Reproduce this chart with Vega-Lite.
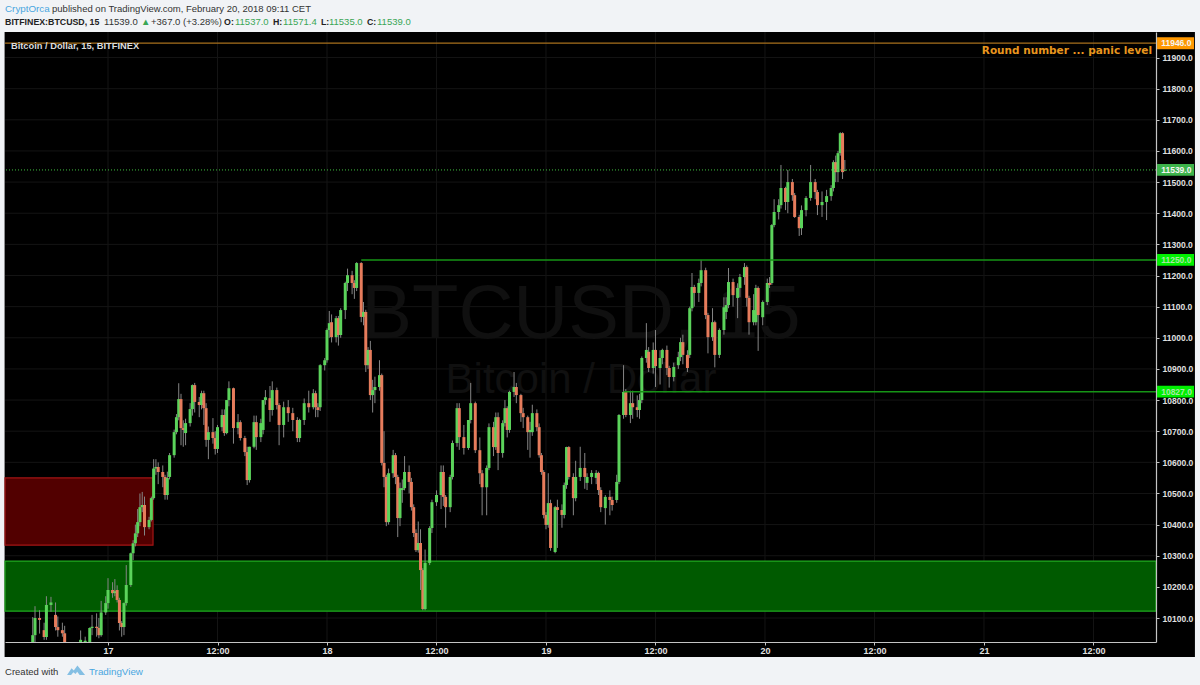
{"$schema":"https://vega.github.io/schema/vega-lite/v6.json","width":1151,"height":610,"autosize":{"type":"none"},"padding":{"left":5,"top":32,"right":44,"bottom":43},"background":"#f1f3f6","view":{"stroke":null},"config":{"view":{"stroke":null},"text":{"font":"Liberation Sans"}},
"datasets":{"candles":[
{"t":"2018-02-16T15:45Z","o":10023,"c":10045,"h":10103,"l":10023},
{"t":"2018-02-16T16:00Z","o":10045,"c":10100,"h":10138,"l":10023},
{"t":"2018-02-16T16:30Z","o":10100,"c":10094,"h":10125,"l":10050},
{"t":"2018-02-16T17:00Z","o":10061,"c":10039,"h":10085,"l":10030},
{"t":"2018-02-16T17:15Z","o":10039,"c":10142,"h":10170,"l":10030},
{"t":"2018-02-16T17:45Z","o":10142,"c":10150,"h":10168,"l":10120},
{"t":"2018-02-16T18:15Z","o":10110,"c":10071,"h":10150,"l":10060},
{"t":"2018-02-16T18:30Z","o":10071,"c":10061,"h":10105,"l":10040},
{"t":"2018-02-16T19:00Z","o":10061,"c":10051,"h":10085,"l":10040},
{"t":"2018-02-16T19:15Z","o":10051,"c":10023,"h":10075,"l":10023},
{"t":"2018-02-16T21:00Z","o":10023,"c":10030,"h":10060,"l":10023},
{"t":"2018-02-16T21:30Z","o":10023,"c":10027,"h":10040,"l":10023},
{"t":"2018-02-16T22:00Z","o":10023,"c":10068,"h":10070,"l":10023},
{"t":"2018-02-16T22:15Z","o":10068,"c":10072,"h":10110,"l":10045},
{"t":"2018-02-16T22:45Z","o":10072,"c":10068,"h":10115,"l":10040},
{"t":"2018-02-16T23:00Z","o":10068,"c":10045,"h":10100,"l":10035},
{"t":"2018-02-16T23:15Z","o":10045,"c":10118,"h":10155,"l":10040},
{"t":"2018-02-16T23:45Z","o":10118,"c":10148,"h":10170,"l":10110},
{"t":"2018-02-17T00:00Z","o":10148,"c":10190,"h":10228,"l":10130},
{"t":"2018-02-17T00:30Z","o":10190,"c":10180,"h":10215,"l":10165},
{"t":"2018-02-17T00:45Z","o":10180,"c":10186,"h":10225,"l":10170},
{"t":"2018-02-17T01:00Z","o":10190,"c":10158,"h":10205,"l":10150},
{"t":"2018-02-17T01:15Z","o":10158,"c":10084,"h":10165,"l":10060},
{"t":"2018-02-17T01:30Z","o":10084,"c":10071,"h":10090,"l":10040},
{"t":"2018-02-17T01:45Z","o":10071,"c":10148,"h":10150,"l":10045},
{"t":"2018-02-17T02:00Z","o":10148,"c":10206,"h":10270,"l":10140},
{"t":"2018-02-17T02:30Z","o":10206,"c":10308,"h":10310,"l":10200},
{"t":"2018-02-17T02:45Z","o":10308,"c":10340,"h":10350,"l":10286},
{"t":"2018-02-17T03:00Z","o":10340,"c":10372,"h":10400,"l":10330},
{"t":"2018-02-17T03:15Z","o":10372,"c":10408,"h":10450,"l":10360},
{"t":"2018-02-17T03:30Z","o":10408,"c":10456,"h":10500,"l":10395},
{"t":"2018-02-17T03:45Z","o":10456,"c":10463,"h":10505,"l":10440},
{"t":"2018-02-17T04:00Z","o":10463,"c":10392,"h":10490,"l":10365},
{"t":"2018-02-17T04:30Z","o":10392,"c":10415,"h":10425,"l":10385},
{"t":"2018-02-17T04:45Z","o":10415,"c":10485,"h":10490,"l":10410},
{"t":"2018-02-17T05:00Z","o":10485,"c":10580,"h":10610,"l":10480},
{"t":"2018-02-17T05:15Z","o":10580,"c":10585,"h":10610,"l":10560},
{"t":"2018-02-17T05:30Z","o":10585,"c":10569,"h":10600,"l":10530},
{"t":"2018-02-17T06:00Z","o":10569,"c":10553,"h":10590,"l":10520},
{"t":"2018-02-17T06:15Z","o":10553,"c":10495,"h":10560,"l":10480},
{"t":"2018-02-17T06:30Z","o":10495,"c":10550,"h":10570,"l":10480},
{"t":"2018-02-17T06:45Z","o":10553,"c":10623,"h":10630,"l":10545},
{"t":"2018-02-17T07:15Z","o":10623,"c":10697,"h":10705,"l":10615},
{"t":"2018-02-17T07:30Z","o":10697,"c":10745,"h":10755,"l":10690},
{"t":"2018-02-17T07:45Z","o":10745,"c":10803,"h":10854,"l":10735},
{"t":"2018-02-17T08:00Z","o":10803,"c":10710,"h":10820,"l":10655},
{"t":"2018-02-17T08:15Z","o":10710,"c":10704,"h":10735,"l":10650},
{"t":"2018-02-17T08:30Z","o":10694,"c":10726,"h":10740,"l":10655},
{"t":"2018-02-17T09:00Z","o":10726,"c":10771,"h":10790,"l":10715},
{"t":"2018-02-17T09:15Z","o":10771,"c":10848,"h":10850,"l":10750},
{"t":"2018-02-17T09:30Z","o":10848,"c":10794,"h":10855,"l":10760},
{"t":"2018-02-17T10:00Z","o":10794,"c":10784,"h":10810,"l":10745},
{"t":"2018-02-17T10:15Z","o":10784,"c":10822,"h":10830,"l":10770},
{"t":"2018-02-17T10:30Z","o":10822,"c":10774,"h":10830,"l":10720},
{"t":"2018-02-17T10:45Z","o":10774,"c":10672,"h":10790,"l":10650},
{"t":"2018-02-17T11:00Z","o":10672,"c":10697,"h":10715,"l":10610},
{"t":"2018-02-17T11:30Z","o":10697,"c":10678,"h":10742,"l":10660},
{"t":"2018-02-17T11:45Z","o":10678,"c":10643,"h":10700,"l":10625},
{"t":"2018-02-17T12:00Z","o":10643,"c":10713,"h":10720,"l":10630},
{"t":"2018-02-17T12:30Z","o":10713,"c":10752,"h":10770,"l":10700},
{"t":"2018-02-17T12:45Z","o":10752,"c":10694,"h":10770,"l":10685},
{"t":"2018-02-17T13:00Z","o":10694,"c":10800,"h":10800,"l":10690},
{"t":"2018-02-17T13:15Z","o":10800,"c":10838,"h":10860,"l":10780},
{"t":"2018-02-17T13:45Z","o":10838,"c":10710,"h":10840,"l":10660},
{"t":"2018-02-17T14:15Z","o":10710,"c":10729,"h":10755,"l":10690},
{"t":"2018-02-17T14:30Z","o":10729,"c":10678,"h":10735,"l":10670},
{"t":"2018-02-17T15:00Z","o":10678,"c":10633,"h":10685,"l":10620},
{"t":"2018-02-17T15:15Z","o":10633,"c":10543,"h":10650,"l":10527},
{"t":"2018-02-17T15:30Z","o":10543,"c":10650,"h":10650,"l":10535},
{"t":"2018-02-17T16:00Z","o":10650,"c":10729,"h":10750,"l":10645},
{"t":"2018-02-17T16:15Z","o":10729,"c":10681,"h":10750,"l":10640},
{"t":"2018-02-17T16:45Z","o":10681,"c":10726,"h":10740,"l":10665},
{"t":"2018-02-17T17:00Z","o":10704,"c":10800,"h":10800,"l":10690},
{"t":"2018-02-17T17:15Z","o":10800,"c":10809,"h":10832,"l":10785},
{"t":"2018-02-17T17:45Z","o":10806,"c":10768,"h":10845,"l":10730},
{"t":"2018-02-17T18:00Z","o":10768,"c":10832,"h":10860,"l":10750},
{"t":"2018-02-17T18:30Z","o":10832,"c":10784,"h":10840,"l":10770},
{"t":"2018-02-17T18:45Z","o":10784,"c":10720,"h":10790,"l":10655},
{"t":"2018-02-17T19:15Z","o":10720,"c":10777,"h":10795,"l":10680},
{"t":"2018-02-17T19:45Z","o":10777,"c":10758,"h":10800,"l":10730},
{"t":"2018-02-17T20:15Z","o":10758,"c":10736,"h":10775,"l":10700},
{"t":"2018-02-17T20:45Z","o":10736,"c":10678,"h":10745,"l":10665},
{"t":"2018-02-17T21:00Z","o":10678,"c":10736,"h":10740,"l":10665},
{"t":"2018-02-17T21:30Z","o":10736,"c":10790,"h":10805,"l":10720},
{"t":"2018-02-17T22:00Z","o":10790,"c":10777,"h":10830,"l":10760},
{"t":"2018-02-17T22:30Z","o":10777,"c":10822,"h":10835,"l":10770},
{"t":"2018-02-17T22:45Z","o":10822,"c":10777,"h":10830,"l":10745},
{"t":"2018-02-17T23:00Z","o":10777,"c":10768,"h":10790,"l":10745},
{"t":"2018-02-17T23:15Z","o":10777,"c":10912,"h":10915,"l":10765},
{"t":"2018-02-17T23:45Z","o":10912,"c":10928,"h":10935,"l":10895},
{"t":"2018-02-18T00:00Z","o":10928,"c":11025,"h":11030,"l":10920},
{"t":"2018-02-18T00:15Z","o":11025,"c":11047,"h":11086,"l":11000},
{"t":"2018-02-18T00:30Z","o":11050,"c":11002,"h":11075,"l":10985},
{"t":"2018-02-18T01:00Z","o":11002,"c":11063,"h":11070,"l":10985},
{"t":"2018-02-18T01:15Z","o":11063,"c":11009,"h":11070,"l":10975},
{"t":"2018-02-18T01:30Z","o":11009,"c":11089,"h":11095,"l":11000},
{"t":"2018-02-18T02:00Z","o":11089,"c":11176,"h":11180,"l":11060},
{"t":"2018-02-18T02:15Z","o":11176,"c":11201,"h":11222,"l":11150},
{"t":"2018-02-18T02:45Z","o":11201,"c":11176,"h":11215,"l":11140},
{"t":"2018-02-18T03:00Z","o":11176,"c":11160,"h":11185,"l":11125},
{"t":"2018-02-18T03:15Z","o":11160,"c":11240,"h":11243,"l":11150},
{"t":"2018-02-18T03:45Z","o":11240,"c":11067,"h":11243,"l":11050},
{"t":"2018-02-18T04:00Z","o":11067,"c":11083,"h":11115,"l":11040},
{"t":"2018-02-18T04:15Z","o":11083,"c":10912,"h":11090,"l":10890},
{"t":"2018-02-18T04:30Z","o":10912,"c":10961,"h":10970,"l":10900},
{"t":"2018-02-18T04:45Z","o":10961,"c":10816,"h":10990,"l":10800},
{"t":"2018-02-18T05:00Z","o":10816,"c":10832,"h":10865,"l":10760},
{"t":"2018-02-18T05:15Z","o":10832,"c":10842,"h":10875,"l":10790},
{"t":"2018-02-18T05:45Z","o":10842,"c":10880,"h":10928,"l":10830},
{"t":"2018-02-18T06:00Z","o":10880,"c":10598,"h":10885,"l":10590},
{"t":"2018-02-18T06:15Z","o":10598,"c":10553,"h":10700,"l":10520},
{"t":"2018-02-18T06:30Z","o":10553,"c":10408,"h":10560,"l":10395},
{"t":"2018-02-18T06:45Z","o":10408,"c":10565,"h":10580,"l":10400},
{"t":"2018-02-18T07:15Z","o":10565,"c":10623,"h":10640,"l":10550},
{"t":"2018-02-18T07:30Z","o":10623,"c":10553,"h":10630,"l":10530},
{"t":"2018-02-18T07:45Z","o":10553,"c":10421,"h":10560,"l":10360},
{"t":"2018-02-18T08:00Z","o":10421,"c":10517,"h":10535,"l":10395},
{"t":"2018-02-18T08:15Z","o":10511,"c":10517,"h":10545,"l":10470},
{"t":"2018-02-18T08:30Z","o":10517,"c":10569,"h":10620,"l":10510},
{"t":"2018-02-18T09:00Z","o":10569,"c":10537,"h":10590,"l":10500},
{"t":"2018-02-18T09:15Z","o":10537,"c":10456,"h":10550,"l":10445},
{"t":"2018-02-18T09:30Z","o":10456,"c":10373,"h":10465,"l":10360},
{"t":"2018-02-18T09:45Z","o":10373,"c":10318,"h":10385,"l":10312},
{"t":"2018-02-18T10:00Z","o":10318,"c":10341,"h":10410,"l":10310},
{"t":"2018-02-18T10:15Z","o":10341,"c":10254,"h":10385,"l":10190},
{"t":"2018-02-18T10:30Z","o":10254,"c":10129,"h":10260,"l":10125},
{"t":"2018-02-18T10:45Z","o":10129,"c":10277,"h":10320,"l":10125},
{"t":"2018-02-18T11:15Z","o":10277,"c":10389,"h":10395,"l":10270},
{"t":"2018-02-18T11:30Z","o":10389,"c":10472,"h":10480,"l":10373},
{"t":"2018-02-18T12:00Z","o":10472,"c":10495,"h":10510,"l":10460},
{"t":"2018-02-18T12:30Z","o":10495,"c":10569,"h":10590,"l":10450},
{"t":"2018-02-18T12:45Z","o":10569,"c":10489,"h":10590,"l":10460},
{"t":"2018-02-18T13:00Z","o":10489,"c":10456,"h":10495,"l":10390},
{"t":"2018-02-18T13:30Z","o":10456,"c":10553,"h":10560,"l":10440},
{"t":"2018-02-18T13:45Z","o":10553,"c":10662,"h":10670,"l":10545},
{"t":"2018-02-18T14:15Z","o":10662,"c":10774,"h":10790,"l":10650},
{"t":"2018-02-18T14:30Z","o":10774,"c":10681,"h":10790,"l":10640},
{"t":"2018-02-18T15:00Z","o":10681,"c":10646,"h":10720,"l":10625},
{"t":"2018-02-18T15:30Z","o":10646,"c":10736,"h":10735,"l":10640},
{"t":"2018-02-18T15:45Z","o":10736,"c":10790,"h":10855,"l":10725},
{"t":"2018-02-18T16:15Z","o":10790,"c":10639,"h":10795,"l":10630},
{"t":"2018-02-18T16:45Z","o":10639,"c":10565,"h":10680,"l":10530},
{"t":"2018-02-18T17:00Z","o":10565,"c":10520,"h":10575,"l":10430},
{"t":"2018-02-18T17:30Z","o":10520,"c":10582,"h":10590,"l":10430},
{"t":"2018-02-18T17:45Z","o":10582,"c":10713,"h":10725,"l":10575},
{"t":"2018-02-18T18:15Z","o":10713,"c":10649,"h":10730,"l":10620},
{"t":"2018-02-18T18:30Z","o":10649,"c":10745,"h":10760,"l":10640},
{"t":"2018-02-18T18:45Z","o":10745,"c":10630,"h":10760,"l":10575},
{"t":"2018-02-18T19:15Z","o":10630,"c":10726,"h":10735,"l":10615},
{"t":"2018-02-18T19:30Z","o":10726,"c":10774,"h":10800,"l":10715},
{"t":"2018-02-18T19:45Z","o":10774,"c":10704,"h":10780,"l":10680},
{"t":"2018-02-18T20:00Z","o":10704,"c":10826,"h":10830,"l":10695},
{"t":"2018-02-18T20:30Z","o":10826,"c":10842,"h":10890,"l":10810},
{"t":"2018-02-18T20:45Z","o":10842,"c":10816,"h":10855,"l":10790},
{"t":"2018-02-18T21:15Z","o":10816,"c":10758,"h":10820,"l":10730},
{"t":"2018-02-18T21:30Z","o":10758,"c":10745,"h":10775,"l":10710},
{"t":"2018-02-18T22:00Z","o":10745,"c":10697,"h":10750,"l":10640},
{"t":"2018-02-18T22:15Z","o":10697,"c":10704,"h":10730,"l":10615},
{"t":"2018-02-18T22:30Z","o":10697,"c":10758,"h":10785,"l":10685},
{"t":"2018-02-18T23:00Z","o":10758,"c":10713,"h":10770,"l":10700},
{"t":"2018-02-18T23:15Z","o":10713,"c":10623,"h":10725,"l":10615},
{"t":"2018-02-18T23:30Z","o":10623,"c":10569,"h":10630,"l":10560},
{"t":"2018-02-18T23:45Z","o":10569,"c":10431,"h":10575,"l":10420},
{"t":"2018-02-19T00:00Z","o":10431,"c":10399,"h":10440,"l":10385},
{"t":"2018-02-19T00:15Z","o":10399,"c":10469,"h":10565,"l":10390},
{"t":"2018-02-19T00:30Z","o":10469,"c":10325,"h":10480,"l":10316},
{"t":"2018-02-19T01:00Z","o":10312,"c":10456,"h":10460,"l":10308},
{"t":"2018-02-19T01:15Z","o":10456,"c":10447,"h":10480,"l":10325},
{"t":"2018-02-19T01:45Z","o":10447,"c":10431,"h":10465,"l":10390},
{"t":"2018-02-19T02:00Z","o":10431,"c":10527,"h":10535,"l":10420},
{"t":"2018-02-19T02:15Z","o":10527,"c":10649,"h":10650,"l":10515},
{"t":"2018-02-19T02:30Z","o":10649,"c":10553,"h":10652,"l":10545},
{"t":"2018-02-19T03:00Z","o":10553,"c":10485,"h":10565,"l":10430},
{"t":"2018-02-19T03:15Z","o":10485,"c":10553,"h":10605,"l":10475},
{"t":"2018-02-19T03:45Z","o":10553,"c":10582,"h":10650,"l":10540},
{"t":"2018-02-19T04:15Z","o":10582,"c":10553,"h":10630,"l":10515},
{"t":"2018-02-19T04:30Z","o":10534,"c":10553,"h":10565,"l":10511},
{"t":"2018-02-19T05:00Z","o":10553,"c":10566,"h":10575,"l":10530},
{"t":"2018-02-19T05:30Z","o":10550,"c":10566,"h":10575,"l":10530},
{"t":"2018-02-19T05:45Z","o":10566,"c":10511,"h":10570,"l":10495},
{"t":"2018-02-19T06:00Z","o":10511,"c":10456,"h":10520,"l":10440},
{"t":"2018-02-19T06:30Z","o":10453,"c":10489,"h":10495,"l":10400},
{"t":"2018-02-19T07:00Z","o":10489,"c":10479,"h":10510,"l":10430},
{"t":"2018-02-19T07:15Z","o":10479,"c":10463,"h":10490,"l":10445},
{"t":"2018-02-19T07:45Z","o":10479,"c":10537,"h":10560,"l":10470},
{"t":"2018-02-19T08:00Z","o":10537,"c":10752,"h":10755,"l":10530},
{"t":"2018-02-19T08:30Z","o":10752,"c":10826,"h":10912,"l":10740},
{"t":"2018-02-19T08:45Z","o":10826,"c":10752,"h":10835,"l":10745},
{"t":"2018-02-19T09:15Z","o":10752,"c":10790,"h":10830,"l":10726},
{"t":"2018-02-19T09:30Z","o":10790,"c":10777,"h":10830,"l":10740},
{"t":"2018-02-19T10:00Z","o":10777,"c":10768,"h":10815,"l":10745},
{"t":"2018-02-19T10:15Z","o":10768,"c":10800,"h":10820,"l":10740},
{"t":"2018-02-19T10:30Z","o":10800,"c":10935,"h":10940,"l":10790},
{"t":"2018-02-19T11:00Z","o":10935,"c":10961,"h":11047,"l":10920},
{"t":"2018-02-19T11:15Z","o":10955,"c":10903,"h":10970,"l":10890},
{"t":"2018-02-19T11:45Z","o":10903,"c":10961,"h":10985,"l":10885},
{"t":"2018-02-19T12:00Z","o":10961,"c":10909,"h":11025,"l":10842},
{"t":"2018-02-19T12:30Z","o":10903,"c":10935,"h":10960,"l":10850},
{"t":"2018-02-19T12:45Z","o":10935,"c":10961,"h":10965,"l":10915},
{"t":"2018-02-19T13:15Z","o":10961,"c":10903,"h":10975,"l":10880},
{"t":"2018-02-19T13:30Z","o":10903,"c":10874,"h":10910,"l":10840},
{"t":"2018-02-19T14:00Z","o":10874,"c":10906,"h":10920,"l":10860},
{"t":"2018-02-19T14:30Z","o":10912,"c":10938,"h":10955,"l":10900},
{"t":"2018-02-19T14:45Z","o":10938,"c":10986,"h":11000,"l":10925},
{"t":"2018-02-19T15:00Z","o":10986,"c":10945,"h":11010,"l":10915},
{"t":"2018-02-19T15:30Z","o":10945,"c":10903,"h":10960,"l":10890},
{"t":"2018-02-19T15:45Z","o":10945,"c":11095,"h":11100,"l":10935},
{"t":"2018-02-19T16:00Z","o":11095,"c":11163,"h":11208,"l":11085},
{"t":"2018-02-19T16:15Z","o":11163,"c":11144,"h":11170,"l":11100},
{"t":"2018-02-19T16:45Z","o":11144,"c":11176,"h":11190,"l":11115},
{"t":"2018-02-19T17:00Z","o":11176,"c":11217,"h":11250,"l":11165},
{"t":"2018-02-19T17:30Z","o":11217,"c":11073,"h":11225,"l":11060},
{"t":"2018-02-19T17:45Z","o":11073,"c":11002,"h":11080,"l":10950},
{"t":"2018-02-19T18:15Z","o":11002,"c":11050,"h":11095,"l":10990},
{"t":"2018-02-19T18:30Z","o":11050,"c":10945,"h":11055,"l":10905},
{"t":"2018-02-19T19:00Z","o":10945,"c":11025,"h":11030,"l":10935},
{"t":"2018-02-19T19:30Z","o":11025,"c":11098,"h":11130,"l":11010},
{"t":"2018-02-19T19:45Z","o":11083,"c":11105,"h":11130,"l":11060},
{"t":"2018-02-19T20:00Z","o":11105,"c":11179,"h":11224,"l":11095},
{"t":"2018-02-19T20:30Z","o":11179,"c":11137,"h":11190,"l":11100},
{"t":"2018-02-19T21:00Z","o":11128,"c":11160,"h":11175,"l":11063},
{"t":"2018-02-19T21:15Z","o":11160,"c":11195,"h":11205,"l":11130},
{"t":"2018-02-19T21:45Z","o":11195,"c":11227,"h":11240,"l":11170},
{"t":"2018-02-19T22:00Z","o":11227,"c":11128,"h":11232,"l":11100},
{"t":"2018-02-19T22:15Z","o":11128,"c":11050,"h":11135,"l":11010},
{"t":"2018-02-19T22:45Z","o":11050,"c":11089,"h":11140,"l":11040},
{"t":"2018-02-19T23:00Z","o":11050,"c":11160,"h":11170,"l":11040},
{"t":"2018-02-19T23:15Z","o":11160,"c":11073,"h":11165,"l":10958},
{"t":"2018-02-19T23:45Z","o":11066,"c":11115,"h":11120,"l":11040},
{"t":"2018-02-20T00:15Z","o":11115,"c":11176,"h":11190,"l":11105},
{"t":"2018-02-20T00:30Z","o":11176,"c":11170,"h":11195,"l":11160},
{"t":"2018-02-20T00:45Z","o":11176,"c":11362,"h":11365,"l":11170},
{"t":"2018-02-20T01:00Z","o":11362,"c":11404,"h":11445,"l":11355},
{"t":"2018-02-20T01:30Z","o":11404,"c":11426,"h":11445,"l":11380},
{"t":"2018-02-20T01:45Z","o":11426,"c":11481,"h":11555,"l":11415},
{"t":"2018-02-20T02:15Z","o":11481,"c":11436,"h":11485,"l":11410},
{"t":"2018-02-20T02:30Z","o":11436,"c":11500,"h":11539,"l":11400},
{"t":"2018-02-20T03:00Z","o":11500,"c":11458,"h":11510,"l":11440},
{"t":"2018-02-20T03:15Z","o":11458,"c":11388,"h":11465,"l":11385},
{"t":"2018-02-20T03:45Z","o":11388,"c":11352,"h":11395,"l":11327},
{"t":"2018-02-20T04:00Z","o":11352,"c":11410,"h":11425,"l":11330},
{"t":"2018-02-20T04:30Z","o":11410,"c":11449,"h":11455,"l":11390},
{"t":"2018-02-20T05:00Z","o":11449,"c":11500,"h":11555,"l":11440},
{"t":"2018-02-20T05:30Z","o":11500,"c":11468,"h":11510,"l":11445},
{"t":"2018-02-20T05:45Z","o":11468,"c":11426,"h":11475,"l":11394},
{"t":"2018-02-20T06:15Z","o":11426,"c":11436,"h":11470,"l":11388},
{"t":"2018-02-20T06:45Z","o":11436,"c":11455,"h":11475,"l":11378},
{"t":"2018-02-20T07:15Z","o":11455,"c":11481,"h":11490,"l":11440},
{"t":"2018-02-20T07:30Z","o":11481,"c":11564,"h":11570,"l":11470},
{"t":"2018-02-20T07:45Z","o":11564,"c":11532,"h":11585,"l":11500},
{"t":"2018-02-20T08:00Z","o":11532,"c":11593,"h":11600,"l":11500},
{"t":"2018-02-20T08:15Z","o":11593,"c":11657,"h":11660,"l":11585},
{"t":"2018-02-20T08:30Z","o":11657,"c":11532,"h":11660,"l":11510},
{"t":"2018-02-20T08:45Z","o":11537,"c":11539,"h":11571,"l":11535}
],
"zones":[{"name":"demand","t0":"2018-02-16T12:43Z","t1":"2018-02-21T18:51Z","p0":10122,"p1":10283},{"name":"supply","t0":"2018-02-16T12:43Z","t1":"2018-02-17T04:56Z","p0":10334,"p1":10550}],
"levels":[{"name":"round","t0":"2018-02-16T12:43Z","p":11946},{"name":"high","t0":"2018-02-18T03:45Z","p":11250},{"name":"breakout","t0":"2018-02-19T08:30Z","p":10827}],
"tags":[{"name":"round","label":"11946.0","p":11946,"p0":11927,"p1":11965,"t0":"2018-02-21T18:58Z","t1":"2018-02-21T23:01Z","t":"2018-02-21T19:25Z"},{"name":"last","label":"11539.0","p":11539,"p0":11520,"p1":11558,"t0":"2018-02-21T18:58Z","t1":"2018-02-21T23:01Z","t":"2018-02-21T19:25Z"},{"name":"high","label":"11250.0","p":11250,"p0":11231,"p1":11269,"t0":"2018-02-21T18:58Z","t1":"2018-02-21T23:01Z","t":"2018-02-21T19:25Z"},{"name":"breakout","label":"10827.0","p":10827,"p0":10808,"p1":10846,"t0":"2018-02-21T18:58Z","t1":"2018-02-21T23:01Z","t":"2018-02-21T19:25Z"}]
},
"layer":[
{"data":{"values":[{"t0":"2018-02-16T12:40Z","t1":"2018-02-21T23:07Z","p0":9975,"p1":11982}]},"mark":{"type":"rect","color":"#000000","clip":false},
"encoding":{"x":{"field":"t0","type":"temporal","scale":{"type":"utc","domain":[1518784963000,1519239060000]},"axis":{"title":null,"grid":false,"zindex":1,"labelOverlap":false,"tickCount":40,"values":[1518825600000,1518868800000,1518912000000,1518955200000,1518998400000,1519041600000,1519084800000,1519128000000,1519171200000,1519214400000],"labelExpr":"utchours(datum.value)==0 ? utcdate(datum.value) : '12:00'","labelColor":"#e0e0e0","labelFont":"Liberation Sans","labelFontSize":9,"labelFontWeight":"bold","domainColor":"#c4c4c4","tickColor":"#c4c4c4","tickSize":3,"labelPadding":1,"domainWidth":1.2}},"x2":{"field":"t1"},"y":{"field":"p0","type":"quantitative","scale":{"domain":[10023,11982],"nice":false,"zero":false},"axis":{"title":null,"grid":false,"zindex":1,"orient":"right","labelOverlap":false,"tickCount":40,"values":[10100,10200,10300,10400,10500,10600,10700,10800,10900,11000,11100,11200,11300,11400,11500,11600,11700,11800,11900],"format":".1f","labelColor":"#e0e0e0","labelFont":"Liberation Sans","labelFontSize":8.5,"labelFontWeight":"bold","domainColor":"#c4c4c4","tickColor":"#c4c4c4","tickSize":3,"labelPadding":3,"domainWidth":1.2}},"y2":{"field":"p1"}}},
{"data":{"values":[{"p":10100},{"p":10200},{"p":10300},{"p":10400},{"p":10500},{"p":10600},{"p":10700},{"p":10800},{"p":10900},{"p":11000},{"p":11100},{"p":11200},{"p":11300},{"p":11400},{"p":11500},{"p":11600},{"p":11700},{"p":11800},{"p":11900}]},"mark":{"type":"rule","color":"#141414","strokeWidth":1},"encoding":{"y":{"field":"p","type":"quantitative"}}},
{"data":{"values":[{"t":"2018-02-17T00:00Z"},{"t":"2018-02-17T12:00Z"},{"t":"2018-02-18T00:00Z"},{"t":"2018-02-18T12:00Z"},{"t":"2018-02-19T00:00Z"},{"t":"2018-02-19T12:00Z"},{"t":"2018-02-20T00:00Z"},{"t":"2018-02-20T12:00Z"},{"t":"2018-02-21T00:00Z"},{"t":"2018-02-21T12:00Z"}]},"mark":{"type":"rule","color":"#141414","strokeWidth":1},"encoding":{"x":{"field":"t","type":"temporal"}}},
{"data":{"values":[{"w":"BTCUSD, 15","t":"2018-02-19T03:50Z","p":11073}]},"mark":{"type":"text","fontSize":76,"color":"#101010","align":"center","baseline":"middle","clip":true},"encoding":{"x":{"field":"t","type":"temporal"},"y":{"field":"p","type":"quantitative"},"text":{"field":"w"}}},
{"data":{"values":[{"w":"Bitcoin / Dollar","t":"2018-02-19T03:50Z","p":10864}]},"mark":{"type":"text","fontSize":42,"color":"#101010","align":"center","baseline":"middle","clip":true},"encoding":{"x":{"field":"t","type":"temporal"},"y":{"field":"p","type":"quantitative"},"text":{"field":"w"}}},
{"data":{"name":"zones"},"mark":{"type":"rect","strokeWidth":1.2},"encoding":{"x":{"field":"t0","type":"temporal"},"x2":{"field":"t1"},"y":{"field":"p0","type":"quantitative"},"y2":{"field":"p1"},"fill":{"field":"name","type":"nominal","legend":null,"scale":{"domain":["demand","supply","round","last","high","breakout"],"range":["#005a00","#520000","#ff9800","#3cb34a","#00f000","#00f000"]}},"stroke":{"field":"name","type":"nominal","legend":null,"scale":{"domain":["demand","supply"],"range":["#1fa81f","#a31515"]}}}},
{"data":{"name":"candles"},"mark":{"type":"rule","color":"#858585","strokeWidth":1,"clip":true},"encoding":{"x":{"field":"t","type":"temporal"},"y":{"field":"l","type":"quantitative"},"y2":{"field":"h"}}},
{"data":{"name":"candles"},"mark":{"type":"rule","strokeWidth":3,"clip":true},"encoding":{"x":{"field":"t","type":"temporal"},"y":{"field":"o","type":"quantitative"},"y2":{"field":"c"},"color":{"condition":{"test":"datum.c>=datum.o","value":"#5bd35b"},"value":"#e67c5c"}}},
{"data":{"name":"levels"},"transform":[{"filter":"datum.name!='round'"}],"mark":{"type":"rule","color":"#169416","strokeWidth":1.5,"clip":false},"encoding":{"x":{"field":"t0","type":"temporal"},"x2":{"datum":1519239060000},"y":{"field":"p","type":"quantitative"}}},
{"data":{"name":"levels"},"transform":[{"filter":"datum.name=='round'"}],"mark":{"type":"rule","color":"#a8701c","strokeWidth":1.3,"clip":false},"encoding":{"x":{"field":"t0","type":"temporal"},"x2":{"datum":1519239060000},"y":{"field":"p","type":"quantitative"}}},
{"data":{"values":[{"p":11539}]},"mark":{"type":"rule","color":"#3fbf3f","strokeWidth":1,"strokeDash":[1,2]},"encoding":{"y":{"field":"p","type":"quantitative"}}},
{"data":{"values":[{"w":"Round number ... panic level","t":"2018-02-21T18:25Z","p":11921}]},"mark":{"type":"text","font":"DejaVu Sans","fontWeight":"bold","fontSize":10.5,"color":"#e8961e","align":"right","baseline":"middle","clip":false},"encoding":{"x":{"field":"t","type":"temporal"},"y":{"field":"p","type":"quantitative"},"text":{"field":"w"}}},
{"data":{"name":"tags"},"mark":{"type":"rect","clip":false},"encoding":{"x":{"field":"t0","type":"temporal"},"x2":{"field":"t1"},"y":{"field":"p0","type":"quantitative"},"y2":{"field":"p1"},"fill":{"field":"name","type":"nominal","legend":null}}},
{"data":{"name":"tags"},"transform":[{"filter":"datum.name=='round'||datum.name=='last'"}],"mark":{"type":"text","fontSize":8.5,"fontWeight":"bold","color":"#f4f4f4","align":"left","baseline":"middle","clip":false},"encoding":{"x":{"field":"t","type":"temporal"},"y":{"field":"p","type":"quantitative"},"text":{"field":"label"}}},
{"data":{"name":"tags"},"transform":[{"filter":"datum.name=='high'||datum.name=='breakout'"}],"mark":{"type":"text","fontSize":8.5,"fontWeight":"bold","color":"#a8e8a8","align":"left","baseline":"middle","clip":false},"encoding":{"x":{"field":"t","type":"temporal"},"y":{"field":"p","type":"quantitative"},"text":{"field":"label"}}},
{"data":{"values":[{"w":"Bitcoin / Dollar, 15, BITFINEX","t":"2018-02-16T13:22Z","p":11937}]},"mark":{"type":"text","fontSize":9.3,"fontWeight":"bold","color":"#dddddd","align":"left","baseline":"middle","clip":false},"encoding":{"x":{"field":"t","type":"temporal"},"y":{"field":"p","type":"quantitative"},"text":{"field":"w"}}},
{"data":{"values":[{"w":"CryptOrca","t":"2018-02-16T12:43Z","p":12055},{"w":"TradingView","t":"2018-02-16T21:55Z","p":9927}]},"mark":{"type":"text","fontSize":9.8,"color":"#49a6e0","align":"left","baseline":"middle","clip":false},"encoding":{"x":{"field":"t","type":"temporal"},"y":{"field":"p","type":"quantitative"},"text":{"field":"w"}}},
{"data":{"values":[{"w":"published on TradingView.com, February 20, 2018 09:11 CET","x":"2018-02-16T17:52Z","p":12055},{"w":"Created with","x":"2018-02-16T12:43Z","p":9927},{"w":"11539.0","x":"2018-02-16T23:34Z","p":12014},{"w":"+367.0 (+3.28%)","x":"2018-02-17T04:43Z","p":12014}]},"mark":{"type":"text","fontSize":9.5,"color":"#333333","align":"left","baseline":"middle","clip":false},"encoding":{"x":{"field":"x","type":"temporal"},"y":{"field":"p","type":"quantitative"},"text":{"field":"w"}}},
{"data":{"values":[{"w":"BITFINEX:BTCUSD, 15","x":"2018-02-16T12:43Z","p":12014},{"w":"O:","x":"2018-02-17T12:43Z","p":12014},{"w":"H:","x":"2018-02-17T18:05Z","p":12014},{"w":"L:","x":"2018-02-17T23:20Z","p":12014},{"w":"C:","x":"2018-02-18T04:23Z","p":12014}]},"mark":{"type":"text","fontSize":8.8,"fontWeight":"bold","color":"#222222","align":"left","baseline":"middle","clip":false},"encoding":{"x":{"field":"x","type":"temporal"},"y":{"field":"p","type":"quantitative"},"text":{"field":"w"}}},
{"data":{"values":[{"w":"11537.0","x":"2018-02-17T13:55Z","p":12014},{"w":"11571.4","x":"2018-02-17T19:11Z","p":12014},{"w":"11535.0","x":"2018-02-18T00:13Z","p":12014},{"w":"11539.0","x":"2018-02-18T05:29Z","p":12014},{"w":"▲","x":"2018-02-17T03:37Z","p":12014}]},"mark":{"type":"text","fontSize":9.5,"color":"#3aa655","align":"left","baseline":"middle","clip":false},"encoding":{"x":{"field":"x","type":"temporal"},"y":{"field":"p","type":"quantitative"},"text":{"field":"w"}}},
{"data":{"values":[{"t":"2018-02-16T20:30Z","p":9930}]},"mark":{"type":"point","filled":true,"clip":false,"size":324,"color":"#56a8dc","shape":"M-1,0.45 L-0.5,-0.3 L-0.25,-0.05 L0.15,-0.6 L1,0.45 L0.4,0.45 L0.12,0.1 L-0.05,0.35 L-0.3,0.15 L-0.55,0.45 Z"},"encoding":{"x":{"field":"t","type":"temporal"},"y":{"field":"p","type":"quantitative"}}}
]}
